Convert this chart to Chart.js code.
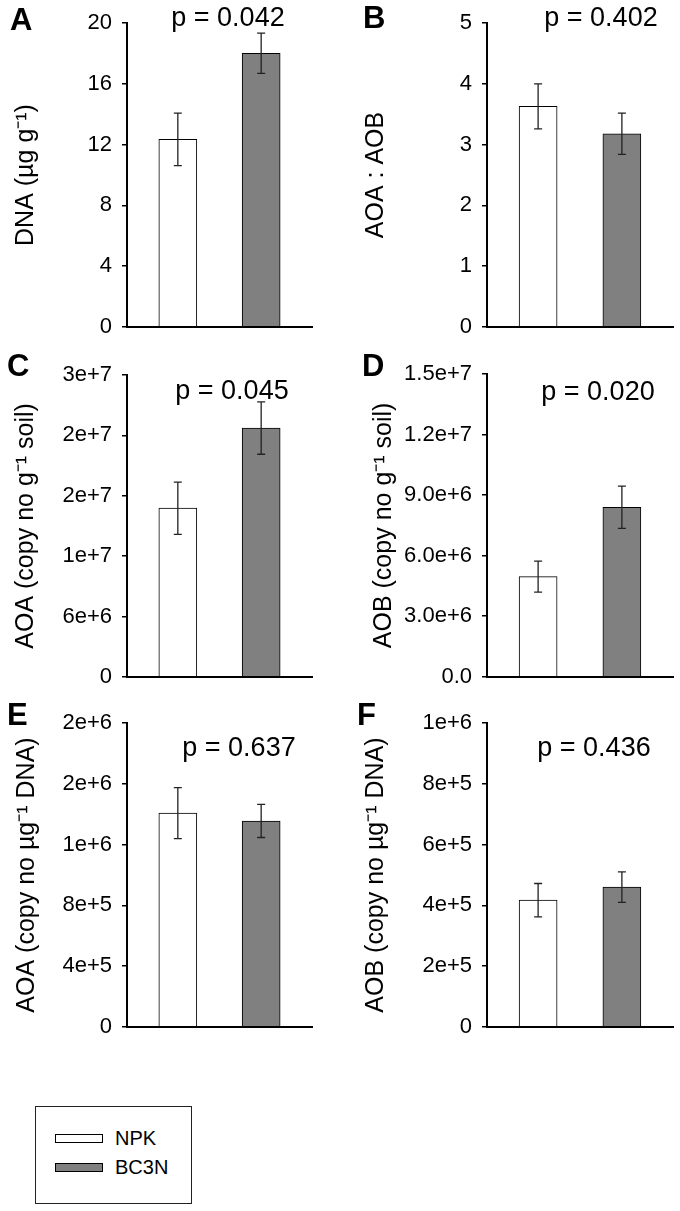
<!DOCTYPE html>
<html>
<head>
<meta charset="utf-8">
<script src="https://cdn.jsdelivr.net/npm/chart.js@4.4.1/dist/chart.umd.min.js"></script>
<style>
  html, body { margin:0; padding:0; background:#fff; }
  body { width:680px; height:1211px; position:relative; overflow:hidden; font-family:"Liberation Sans", Arial, sans-serif; color:#000; }
  canvas.panel { position:absolute; }
  .lbl { position:absolute; font-weight:bold; font-size:31px; line-height:1; }
  .pv { position:absolute; font-size:27px; line-height:1; white-space:nowrap; transform:translateX(-50%); }
  .legend { position:absolute; left:35px; top:1106px; width:157px; height:98px; border:1.5px solid #222; box-sizing:border-box; }
  .legend .sw { position:absolute; left:19px; width:48px; height:9px; border:1px solid #000; box-sizing:border-box; }
  .legend .tx { position:absolute; left:79px; font-size:20px; line-height:1; }
</style>
</head>
<body>
<script>
// ---------- data ----------
const categories = ['NPK', 'BC3N'];
const barColors = ['#ffffff', '#808080'];

const dnaValues   = [12.35, 18.02];
const dnaErrors   = [1.73, 1.33];
const ratioValues = [3.63, 3.18];
const ratioErrors = [0.37, 0.34];
const aoaSoilValues = [1.676e7, 2.472e7];
const aoaSoilErrors = [2.6e6, 2.6e6];
const aobSoilValues = [4.96e6, 8.40e6];
const aobSoilErrors = [0.77e6, 1.05e6];
const aoaDnaValues = [1.408e6, 1.356e6];
const aoaDnaErrors = [1.68e5, 1.09e5];
const aobDnaValues = [4.17e5, 4.60e5];
const aobDnaErrors = [5.5e4, 5.0e4];

const dnaTicks     = ['0', '4', '8', '12', '16', '20'];
const ratioTicks   = ['0', '1', '2', '3', '4', '5'];
const aoaSoilTicks = ['0', '6e+6', '1e+7', '2e+7', '2e+7', '3e+7'];
const aobSoilTicks = ['0.0', '3.0e+6', '6.0e+6', '9.0e+6', '1.2e+7', '1.5e+7'];
const aoaDnaTicks  = ['0', '4e+5', '8e+5', '1e+6', '2e+6', '2e+6'];
const aobDnaTicks  = ['0', '2e+5', '4e+5', '6e+5', '8e+5', '1e+6'];

const pValues = ['p = 0.042', 'p = 0.402', 'p = 0.045', 'p = 0.020', 'p = 0.637', 'p = 0.436'];
const panelLetters = ['A', 'B', 'C', 'D', 'E', 'F'];
const yTitles = ['DNA (µg g⁻¹)', 'AOA : AOB', 'AOA (copy no g⁻¹ soil)', 'AOB (copy no g⁻¹ soil)', 'AOA (copy no µg⁻¹ DNA)', 'AOB (copy no µg⁻¹ DNA)'];
const yMax  = [20, 5, 3e7, 1.5e7, 2e6, 1e6];
const yStep = [4, 1, 6e6, 3e6, 4e5, 2e5];

// ---------- layout ----------
const FONT = '"Liberation Sans", Arial, sans-serif';
const panels = [
  {values:dnaValues, errors:dnaErrors, ticks:dnaTicks, col:0, rowTop:0,   L:127, R:312, T:23,  B:336,  titlePad:11, letter:[10,8],   p:[228,4]},
  {values:ratioValues, errors:ratioErrors, ticks:ratioTicks, col:1, rowTop:0, L:487, R:673, T:23,  B:336,  titlePad:21, letter:[363,6], p:[601,4]},
  {values:aoaSoilValues, errors:aoaSoilErrors, ticks:aoaSoilTicks, col:0, rowTop:350, L:127, R:312, T:375, B:688, titlePad:11, letter:[7,354], p:[232,377]},
  {values:aobSoilValues, errors:aobSoilErrors, ticks:aobSoilTicks, col:1, rowTop:350, L:487, R:673, T:374, B:688, titlePad:29, letter:[362,354], p:[598,378]},
  {values:aoaDnaValues, errors:aoaDnaErrors, ticks:aoaDnaTicks, col:0, rowTop:700, L:127, R:312, T:722, B:1033, titlePad:12, letter:[7,703], p:[239,734]},
  {values:aobDnaValues, errors:aobDnaErrors, ticks:aobDnaTicks, col:1, rowTop:700, L:487, R:673, T:722, B:1033, titlePad:21, letter:[357,703], p:[594,734]},
];

const errorBarPlugin = {
  id: 'errorBars',
  afterDatasetsDraw(chart, args, opts) {
    const ctx = chart.ctx;
    const xs = chart.scales.x, ys = chart.scales.y;
    const ds = chart.data.datasets[0];
    ctx.save();
    ctx.strokeStyle = '#222';
    ctx.lineWidth = 1.3;
    ds.data.forEach((pt, i) => {
      const e = opts.errors[i];
      const x = xs.getPixelForValue(pt.x);
      const yt = ys.getPixelForValue(pt.y + e);
      const yb = ys.getPixelForValue(pt.y - e);
      ctx.beginPath();
      ctx.moveTo(x, yt); ctx.lineTo(x, yb);
      ctx.moveTo(x - 4, yt); ctx.lineTo(x + 4, yt);
      ctx.moveTo(x - 4, yb); ctx.lineTo(x + 4, yb);
      ctx.stroke();
    });
    ctx.restore();
  }
};

panels.forEach((p, idx) => {
  const colLeft = p.col * 340;
  const cv = document.createElement('canvas');
  cv.className = 'panel';
  cv.style.left = colLeft + 'px';
  cv.style.top = p.rowTop + 'px';
  cv.style.width = '340px';
  cv.style.height = '350px';
  cv.width = 340; cv.height = 350;
  document.body.appendChild(cv);

  const axisW = p.L - colLeft;
  new Chart(cv, {
    type: 'bar',
    data: {
      datasets: [{
        data: categories.map((c, i) => ({x: i + 1, y: p.values[i]})),
        backgroundColor: barColors,
        borderColor: '#000',
        borderWidth: 1,
        barThickness: 38,
      }]
    },
    options: {
      responsive: false,
      animation: false,
      devicePixelRatio: 1,
      layout: { padding: { left: 0, right: colLeft + 340 - p.R, top: p.T - p.rowTop, bottom: p.rowTop + 350 - p.B } },
      plugins: { legend: { display: false }, tooltip: { enabled: false }, errorBars: { errors: p.errors } },
      scales: {
        x: {
          type: 'linear', min: 0.39, max: 2.61, offset: false,
          ticks: { display: false },
          grid: { display: false },
          border: { display: true, color: '#000', width: 2 },
          afterFit(s) { s.height = 0; }
        },
        y: {
          min: 0, max: yMax[idx],
          ticks: {
            stepSize: yStep[idx],
            color: '#000',
            padding: 10,
            font: { family: FONT, size: 22 },
            callback: (v, i) => p.ticks[i]
          },
          grid: { drawOnChartArea: false, drawTicks: true, tickLength: 5, color: '#000', lineWidth: 1.5 },
          border: { display: true, color: '#000', width: 2 },
          title: { display: true, text: yTitles[idx], color: '#000', font: { family: FONT, size: 25 }, padding: { top: p.titlePad, bottom: 0 } },
          afterFit(s) { s.width = axisW; }
        }
      }
    },
    plugins: [errorBarPlugin]
  });

  const l = document.createElement('div');
  l.className = 'lbl';
  l.textContent = panelLetters[idx];
  l.style.left = p.letter[0] + 'px';
  l.style.top = (p.letter[1] - 4) + 'px';
  document.body.appendChild(l);

  const t = document.createElement('div');
  t.className = 'pv';
  t.textContent = pValues[idx];
  t.style.left = p.p[0] + 'px';
  t.style.top = p.p[1] + 'px';
  document.body.appendChild(t);
});

// legend
const lg = document.createElement('div');
lg.className = 'legend';
categories.forEach((c, i) => {
  const sw = document.createElement('div');
  sw.className = 'sw';
  sw.style.top = (27 + i * 29) + 'px';
  sw.style.background = barColors[i];
  lg.appendChild(sw);
  const tx = document.createElement('div');
  tx.className = 'tx';
  tx.style.top = (21 + i * 29) + 'px';
  tx.textContent = c;
  lg.appendChild(tx);
});
document.body.appendChild(lg);
</script>
</body>
</html>
